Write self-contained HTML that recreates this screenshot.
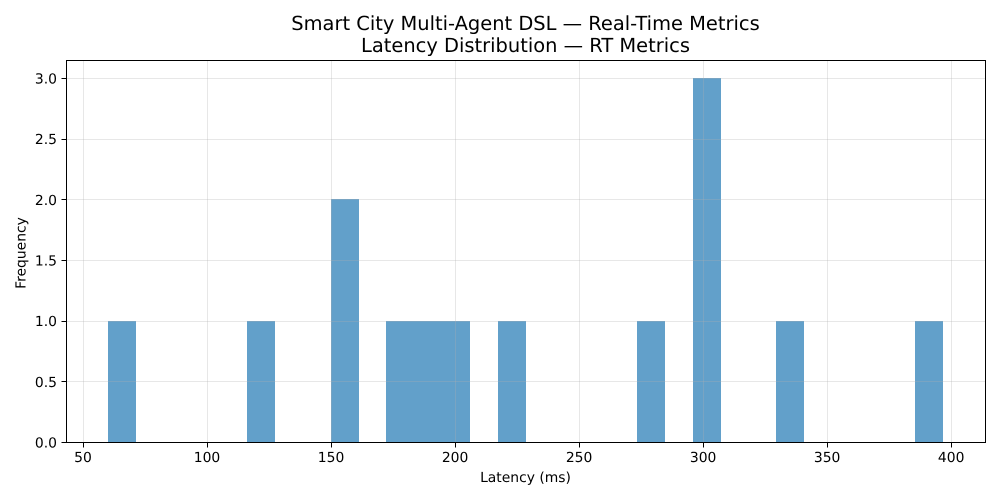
<!DOCTYPE html>
<html>
<head>
<meta charset="utf-8">
<style>
html,body{margin:0;padding:0;background:#fff;}
svg{display:block;}
text{font-family:"DejaVu Sans",sans-serif;fill:#000;text-rendering:geometricPrecision;}
</style>
</head>
<body>
<svg id="chart" xmlns="http://www.w3.org/2000/svg" width="1000" height="500" viewBox="0 0 1000 500">
  <rect x="0" y="0" width="1000" height="500" fill="#fff"/>
  <text x="525.5" y="30" font-size="19.44" text-anchor="middle">Smart City Multi-Agent DSL — Real-Time Metrics</text>
  <text x="525.5" y="52" font-size="19.44" text-anchor="middle">Latency Distribution — RT Metrics</text>
  <g id="bars"></g>
  <g id="grid"></g>
  <rect x="66.5" y="60.5" width="919" height="382" fill="none" stroke="#000" stroke-width="1"/>
  <g id="ticks"></g>
  <text x="525.5" y="482" font-size="13.89" text-anchor="middle">Latency (ms)</text>
  <text transform="translate(25.5,253) rotate(-90)" font-size="13.89" text-anchor="middle">Frequency</text>
</svg>
<script>
const binStart = 60.1;
const binWidth = 11.2235;
const binCounts = [1,0,0,0,0,1,0,0,2,0,1,1,1,0,1,0,0,0,0,1,0,3,0,0,1,0,0,0,0,1];
const xTickValues = [50,100,150,200,250,300,350,400];
const yTickValues = [0,0.5,1,1.5,2,2.5,3];
const yTickLabels = ['0.0','0.5','1.0','1.5','2.0','2.5','3.0'];

const NS = 'http://www.w3.org/2000/svg';
const frameLeft = 66.5, frameRight = 985.5, frameTop = 60.5, frameBottom = 442.5;
function xScale(v){ return 83 + (v - 50) * 2.4805; }
function yScale(v){ return 442 - v * 121.33; }
function make(tag, attrs){
  const el = document.createElementNS(NS, tag);
  for (const k in attrs) el.setAttribute(k, attrs[k]);
  return el;
}
const barsG = document.getElementById('bars');
const gridG = document.getElementById('grid');
const ticksG = document.getElementById('ticks');

binCounts.forEach(function(count, i){
  if (count <= 0) return;
  const x0 = Math.round(xScale(binStart + i * binWidth));
  const x1 = Math.round(xScale(binStart + (i + 1) * binWidth));
  const yTop = Math.round(yScale(count));
  const r = make('rect', {x:x0, y:yTop, width:x1 - x0, height:442 - yTop, fill:'#1f77b4', 'fill-opacity':0.7});
  
  
  barsG.appendChild(r);
});

xTickValues.forEach(function(v){
  const x = Math.round(xScale(v)) + 0.5;
  const g = make('line', {x1:x, x2:x, y1:frameTop, y2:frameBottom, stroke:'#b0b0b0', 'stroke-opacity':0.3, 'stroke-width':1});
  
  
  gridG.appendChild(g);
  const t = make('line', {x1:x, x2:x, y1:frameBottom, y2:frameBottom + 5, stroke:'#000', 'stroke-width':1});
  
  
  ticksG.appendChild(t);
  const l = make('text', {x:xScale(v), y:462, 'font-size':13.89, 'text-anchor':'middle'});
  
  
  l.textContent = String(v);
  ticksG.appendChild(l);
});

yTickValues.forEach(function(v, i){
  const y = Math.round(yScale(v)) + 0.5;
  const g = make('line', {x1:frameLeft, x2:frameRight, y1:y, y2:y, stroke:'#b0b0b0', 'stroke-opacity':0.3, 'stroke-width':1});
  
  
  gridG.appendChild(g);
  const t = make('line', {x1:frameLeft - 5, x2:frameLeft, y1:y, y2:y, stroke:'#000', 'stroke-width':1});
  
  
  ticksG.appendChild(t);
  const l = make('text', {x:frameLeft - 9.5, y:yScale(v) + 5.5, 'font-size':13.89, 'text-anchor':'end'});
  
  
  l.textContent = yTickLabels[i];
  ticksG.appendChild(l);
});
</script>
</body>
</html>
